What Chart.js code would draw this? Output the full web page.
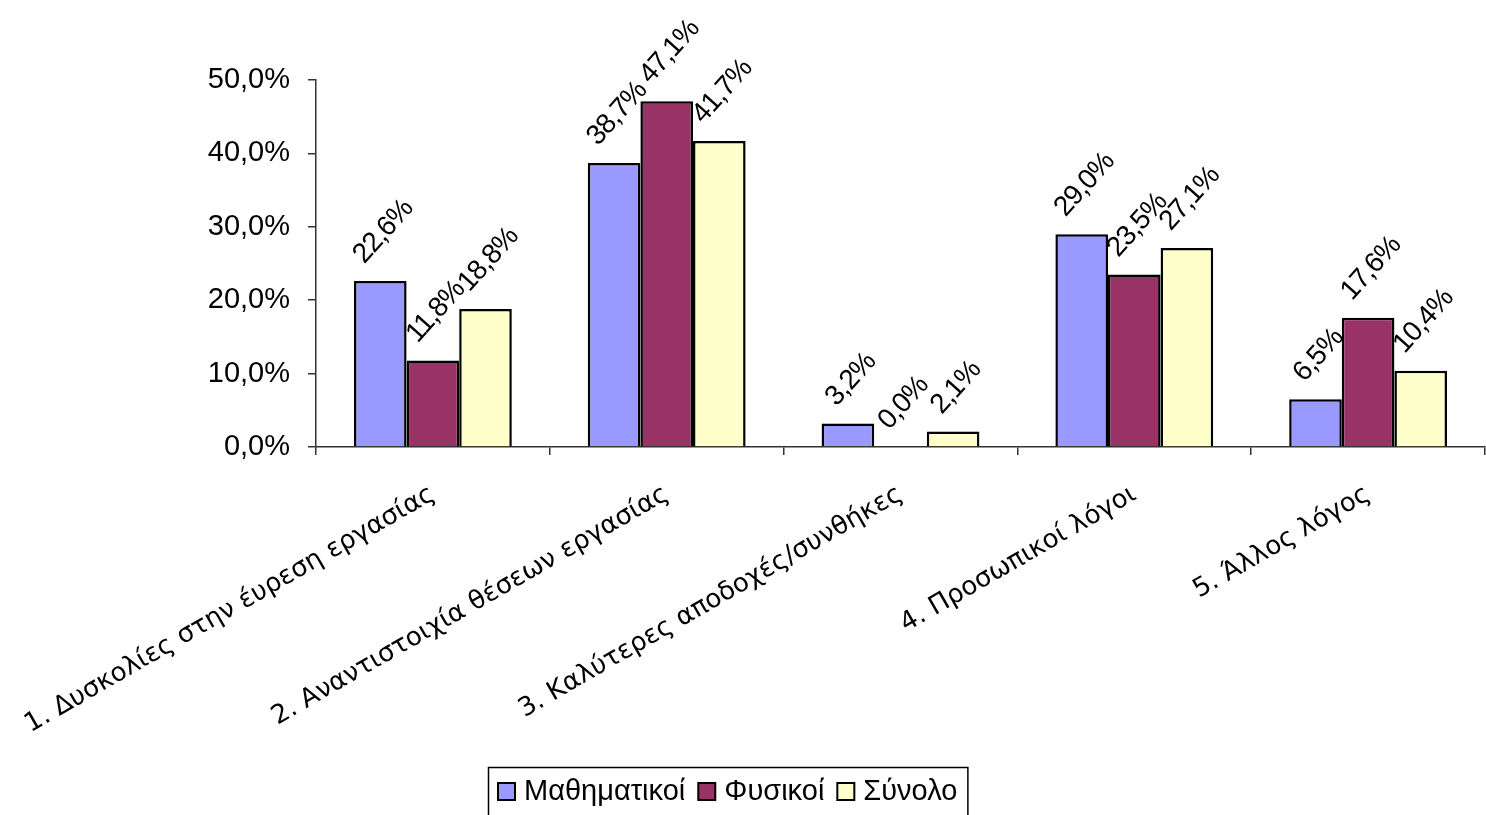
<!DOCTYPE html>
<html>
<head>
<meta charset="utf-8">
<script src="https://cdn.jsdelivr.net/npm/chart.js@4/dist/chart.umd.min.js"></script>
<style>
    html, body { margin: 0; padding: 0; background: #ffffff; overflow: hidden; }
    #reasonsChart { display: block; }
</style>
</head>
<body>
<canvas id="reasonsChart" width="1486" height="815"></canvas>
<script>
// Data
const categories = [
    '1. Δυσκολίες στην έυρεση εργασίας',
    '2. Αναντιστοιχία θέσεων εργασίας',
    '3. Καλύτερες αποδοχές/συνθήκες',
    '4. Προσωπικοί λόγοι',
    '5. Άλλος λόγος'
];
const seriesNames = ['Μαθηματικοί', 'Φυσικοί', 'Σύνολο'];
const mathValues = [22.6, 38.7, 3.2, 29.0, 6.5];
const physicsValues = [11.8, 47.1, 0.0, 23.5, 17.6];
const totalValues = [18.8, 41.7, 2.1, 27.1, 10.4];
const yTicks = [0, 10, 20, 30, 40, 50];

const seriesColors = ['#9999FF', '#993366', '#FFFFCC'];
const labelFont = '29px "Liberation Sans", Arial, sans-serif';
const valueFont = '28px "Liberation Sans", Arial, sans-serif';

function pct(v) {
    return v.toFixed(1).replace('.', ',') + '%';
}

// Rotated value labels above every bar
const valueLabels = {
    id: 'valueLabels',
    afterDatasetsDraw(chart) {
        const ctx = chart.ctx;
        const angle = 48 * Math.PI / 180;
        ctx.save();
        ctx.font = valueFont;
        if ('letterSpacing' in ctx) ctx.letterSpacing = '-1px';
        ctx.fillStyle = '#000000';
        ctx.textAlign = 'center';
        ctx.textBaseline = 'middle';
        chart.data.datasets.forEach((ds, i) => {
            const meta = chart.getDatasetMeta(i);
            meta.data.forEach((bar, j) => {
                const text = pct(ds.data[j]);
                const w = ctx.measureText(text).width;
                const h = 20;
                const boxH = w * Math.sin(angle) + h * Math.cos(angle);
                const cx = bar.x + 3;
                const cy = bar.y - 15 - boxH / 2;
                ctx.save();
                ctx.translate(cx, cy);
                ctx.rotate(-angle);
                ctx.fillText(text, 0, 0);
                ctx.restore();
            });
        });
        ctx.restore();
    }
};

// Boxed legend at the bottom, like the original
const boxLegend = {
    id: 'boxLegend',
    afterDraw(chart) {
        const ctx = chart.ctx;
        ctx.save();
        ctx.font = labelFont;
        const pad = 10, sw = 17, swGap = 9, itemGap = 13;
        const widths = chart.data.datasets.map(ds => ctx.measureText(ds.label).width);
        let total = pad * 2;
        widths.forEach((w, i) => { total += sw + swGap + w + (i > 0 ? itemGap : 0); });
        const left = Math.round(728 - total / 2);
        const top = 767;
        ctx.strokeStyle = '#000000';
        ctx.lineWidth = 1.5;
        ctx.strokeRect(left + 0.5, top + 0.5, total, 70);
        let x = left + pad;
        const cy = 791;
        ctx.textAlign = 'left';
        ctx.textBaseline = 'middle';
        chart.data.datasets.forEach((ds, i) => {
            ctx.fillStyle = ds.backgroundColor;
            ctx.fillRect(x, cy - 8, sw, sw);
            ctx.lineWidth = 2;
            ctx.strokeRect(x, cy - 8, sw, sw);
            ctx.fillStyle = '#000000';
            ctx.fillText(ds.label, x + sw + swGap, cy + 1);
            x += sw + swGap + widths[i] + itemGap;
        });
        ctx.restore();
    }
};

const seriesValues = [mathValues, physicsValues, totalValues];

new Chart(document.getElementById('reasonsChart'), {
    type: 'bar',
    data: {
        labels: categories,
        datasets: seriesNames.map((name, i) => ({
            label: name,
            data: seriesValues[i],
            backgroundColor: seriesColors[i],
            borderColor: '#000000',
            borderWidth: 2.5,
            categoryPercentage: 0.675,
            barPercentage: 1.0
        }))
    },
    options: {
        responsive: false,
        devicePixelRatio: 1,
        animation: false,
        layout: {
            padding: { top: 80, right: 1, left: 0, bottom: 0 }
        },
        plugins: {
            legend: { display: false },
            tooltip: { enabled: false }
        },
        scales: {
            y: {
                min: 0,
                max: 50,
                afterBuildTicks(scale) {
                    scale.ticks = yTicks.map(v => ({ value: v }));
                },
                afterFit(scale) {
                    scale.width = 316;
                },
                border: { color: '#333333', width: 1.5 },
                grid: {
                    drawOnChartArea: false,
                    color: '#333333',
                    lineWidth: 1.5,
                    tickLength: 8
                },
                ticks: {
                    color: '#000000',
                    padding: 18,
                    font: { family: '"Liberation Sans", Arial, sans-serif', size: 29 },
                    callback: v => pct(v)
                }
            },
            x: {
                afterFit(scale) {
                    scale.height = 815 - 447;
                    // long rotated labels must not push the plot area to the right
                    scale.paddingLeft = 0;
                    scale.paddingRight = 0;
                },
                border: { color: '#333333', width: 1.5 },
                grid: {
                    offset: true,
                    drawOnChartArea: false,
                    color: '#333333',
                    lineWidth: 1.5,
                    tickLength: 8
                },
                ticks: {
                    color: '#000000',
                    autoSkip: false,
                    minRotation: 30,
                    maxRotation: 30,
                    padding: 24,
                    font: { family: '"DejaVu Sans", Verdana, sans-serif', size: 26 }
                }
            }
        }
    },
    plugins: [valueLabels, boxLegend]
});
</script>
</body>
</html>
